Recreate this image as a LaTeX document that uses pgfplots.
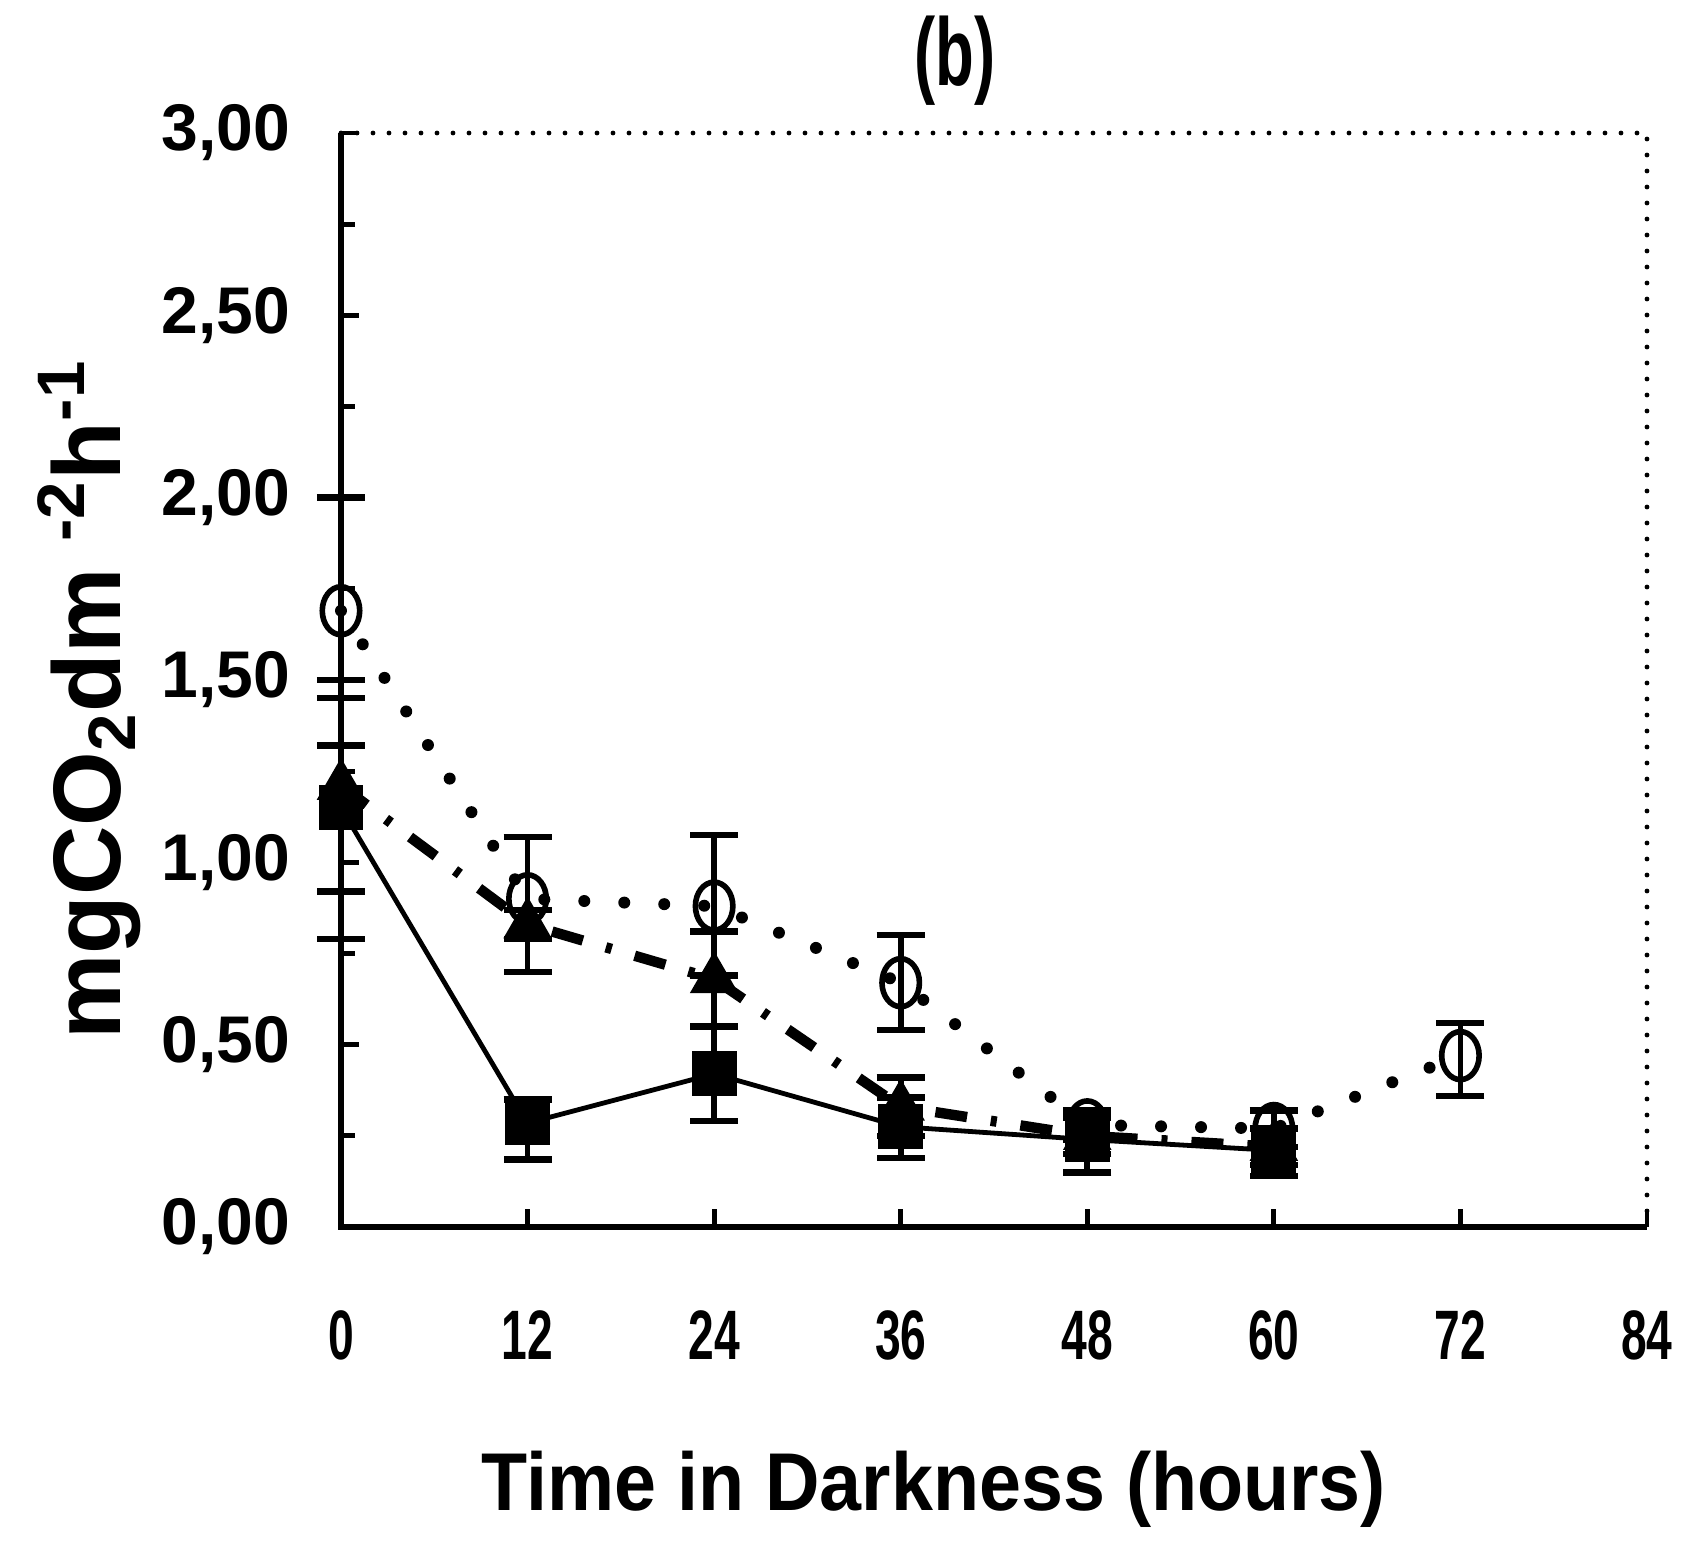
\documentclass[border=0pt]{standalone}
\usepackage{pgfplots}
\pgfplotsset{compat=1.18}
\usepackage{pgfplotstable}
\usepackage{fontspec}
\setmainfont{Liberation Sans}
\newfontfamily\condfont{Liberation Sans Bold}[FakeStretch=0.66]
\newfontfamily\medfont{Liberation Sans Bold}[FakeStretch=0.92]

\pgfplotstableread{
x y ep em
0 1.69 0.31 0.37
12 0.90 0.17 0.20
24 0.88 0.195 0.19
36 0.67 0.13 0.13
48 0.28 0.04 0.04
60 0.27 0.05 0.05
72 0.47 0.09 0.11
}\circles
\pgfplotstableread{
x y ep em
0 1.21 0.29 0.29
12 0.83 0.04 0.04
24 0.68 0.13 0.13
36 0.33 0.08 0.08
48 0.25 0.05 0.05
60 0.22 0.05 0.05
}\triangles
\pgfplotstableread{
x y ep em
0 1.15 0.30 0.36
12 0.285 0.065 0.10
24 0.42 0.13 0.13
36 0.275 0.08 0.085
48 0.24 0.08 0.09
60 0.21 0.11 0.07
}\squares

\begin{document}
\begin{tikzpicture}
\begin{axis}[
  name=ax,
  scale only axis,
  width=326.5pt, height=273.5pt,
  xmin=0, xmax=84, ymin=0, ymax=3,
  clip=false,
  axis line style={draw=none},
  xtick={0,12,...,84},
  ytick={0,0.5,...,3},
  minor ytick={0.25,0.75,...,2.75},
  tick align=inside,
  xtick pos=bottom, ytick pos=left,
  major tick length=4.5pt, minor tick length=3.5pt,
  tick style={line width=1.2pt, black},
  /pgf/number format/assume math mode=true,
  yticklabel style={/pgf/number format/.cd, fixed, fixed zerofill, precision=2, use comma, /tikz/.cd,
    font=\bfseries\fontsize{16.5}{17}\selectfont, anchor=east, inner sep=0pt, xshift=-12.5pt},
  xticklabel style={font=\condfont\fontsize{17.5}{18}\selectfont, anchor=center, yshift=-27pt, inner sep=0pt},
  xlabel={Time in Darkness (hours)},
  xlabel style={font=\medfont\fontsize{20.5}{22}\selectfont, at={(axis description cs:0.454,0)}, anchor=center, yshift=-65.5pt},
  ylabel={mgCO\textsubscript{2}dm \textsuperscript{-2}h\textsuperscript{-1}},
  ylabel style={font=\bfseries\fontsize{24}{26}\selectfont, at={(axis description cs:0,0.482)}, anchor=center, yshift=63pt},
  title={(b)},
  title style={font=\condfont\fontsize{24}{26}\selectfont, at={(axis description cs:0.47,1)}, anchor=center, yshift=12pt},
  error bars/error bar style={line width=1.4pt, solid, black},
  error bars/error mark options={rotate=90, line width=1.6pt, mark size=6pt, solid, black},
]
% circles (dotted)
\addplot[black, line width=3pt, line cap=round, dash pattern=on 0pt off 10pt,
  mark=o, mark size=6pt, mark options={solid, xscale=0.78, line width=1.4pt, fill=white},
  error bars/.cd, y dir=both, y explicit]
  table[x=x, y=y, y error plus=ep, y error minus=em]{\circles};
% triangles (dash-dot)
\addplot[black, line width=2.6pt, dash pattern=on 8pt off 6pt on 1.5pt off 6pt,
  mark=triangle*, mark size=6.5pt, mark options={solid, line width=0.5pt},
  error bars/.cd, y dir=both, y explicit]
  table[x=x, y=y, y error plus=ep, y error minus=em]{\triangles};
% squares (solid)
\addplot[black, line width=1.2pt,
  mark=square*, mark size=5pt, mark options={solid},
  error bars/.cd, y dir=both, y explicit]
  table[x=x, y=y, y error plus=ep, y error minus=em]{\squares};
% frame
\draw[line width=1.3pt] (rel axis cs:0,1) -- (rel axis cs:0,0) -- (rel axis cs:1,0);
\draw[line width=1.2pt, line cap=round, dash pattern=on 0pt off 4pt] (rel axis cs:0,1) -- (rel axis cs:1,1) -- (rel axis cs:1,0);
\end{axis}
\pgfresetboundingbox
\path ([xshift=-85.25pt,yshift=-79.75pt]ax.south west) rectangle ([xshift=8.75pt,yshift=33.25pt]ax.north east);
\end{tikzpicture}
\end{document}
